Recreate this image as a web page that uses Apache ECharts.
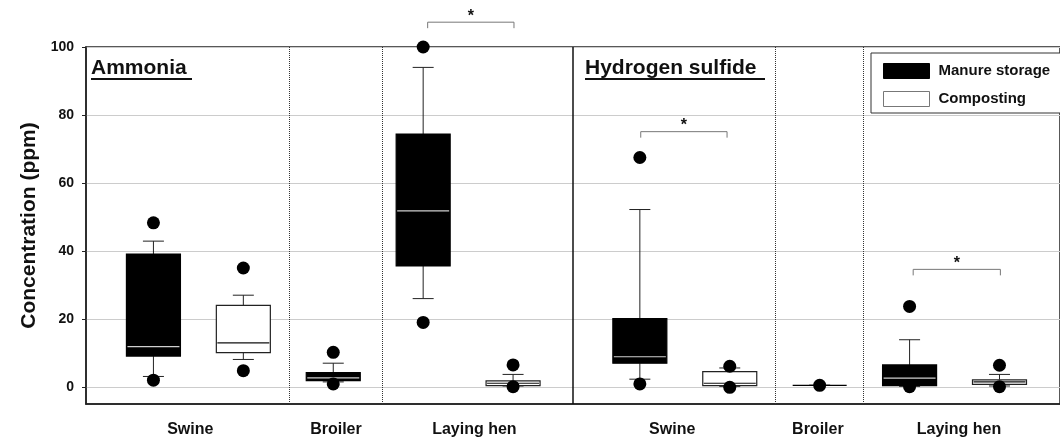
<!DOCTYPE html>
<html>
<head>
<meta charset="utf-8">
<script src="https://cdn.jsdelivr.net/npm/echarts@6/dist/echarts.min.js"></script>
<style>
  html, body { margin: 0; padding: 0; background: #fff; }
  #main { width: 1060px; height: 442px; }
</style>
</head>
<body>
<div id="main"></div>
<script>
var fontFamily = 'Arial, "Liberation Sans", sans-serif';

// x positions of the boxes (one unit = distance between neighbouring boxes)
var manurePos = [1, 3, 4, 6.41, 8.41, 9.41];
var compostPos = [2, 5, 7.41, 10.41];

// [min, Q1, median, Q3, max]
var manureBoxes = [
  [3.1, 9.1, 11.9, 39.1, 42.9],   // ammonia swine
  [1.5, 1.9, 2.7, 4.2, 7.0],      // ammonia broiler
  [26, 35.6, 51.8, 74.4, 94],     // ammonia laying hen
  [2.3, 7.0, 8.9, 20.1, 52.2],    // H2S swine
  [0.5, 0.5, 0.5, 0.5, 0.5],      // H2S broiler
  [0.2, 0.4, 2.6, 6.5, 13.9]      // H2S laying hen
];
var compostBoxes = [
  [8.1, 10.1, 13, 24, 27],
  [0.3, 0.4, 1.1, 1.8, 3.7],
  [0.2, 0.4, 1.1, 4.5, 5.6],
  [0.3, 0.8, 1.5, 2.1, 3.7]
];

// outlier points [x, value]
var outliers = [
  [1, 48.3], [1, 2.0], [2, 35], [2, 4.8], [3, 10.2], [3, 0.9],
  [4, 100], [4, 19], [5, 6.5], [5, 0.1],
  [6.41, 67.5], [6.41, 0.9], [7.41, 6.1], [7.41, -0.1], [8.41, 0.5],
  [9.41, 23.7], [9.41, 0.1], [10.41, 6.4], [10.41, 0.1]
];

// significance brackets [x from, x to, level]
var brackets = [[4.05, 5.01, 107.3], [6.42, 7.38, 75.1], [9.45, 10.42, 34.6]];

var panelDividers = [5.664];
var groupDividers = [2.506, 3.542, 7.917, 8.898];

var groupLabels = ['Swine', 'Broiler', 'Laying hen', 'Swine', 'Broiler', 'Laying hen'];
var labelPos = [1.41, 3.03, 4.57, 6.77, 8.39, 9.96];
var yTicks = [0, 20, 40, 60, 80, 100];

function boxData(pos, boxes) {
  return pos.map(function (x, i) { return [x].concat(boxes[i]); });
}

function seg(x1, y1, x2, y2, color, width) {
  return { type: 'line', shape: { x1: x1, y1: y1, x2: x2, y2: y2 }, style: { stroke: color, lineWidth: width } };
}

function renderBox(fill, edge, midColor) {
  return function (params, api) {
    var x = api.value(0);
    var p = [1, 2, 3, 4, 5].map(function (i) { return api.coord([x, api.value(i)]); });
    var cx = p[0][0];
    var half = 27, cap = 10.5;
    var kids = [
      seg(cx, p[3][1], cx, p[4][1], '#222', 1),
      seg(cx - cap, p[4][1], cx + cap, p[4][1], '#222', 1),
      seg(cx, p[0][1], cx, p[1][1], '#222', 1),
      seg(cx - cap, p[0][1], cx + cap, p[0][1], '#222', 1),
      {
        type: 'rect',
        shape: { x: cx - half, y: p[3][1], width: half * 2, height: p[1][1] - p[3][1] },
        style: { fill: fill, stroke: edge, lineWidth: 1.2 }
      }
    ];
    if (api.value(4) > api.value(2)) {
      kids.push(seg(cx - half + 1, p[2][1], cx + half - 1, p[2][1], midColor, 1.2));
    }
    return { type: 'group', children: kids };
  };
}

var chartDom = document.getElementById('main');
var myChart = echarts.init(chartDom);
var option;

option = {
  animation: false,
  textStyle: { fontFamily: fontFamily },
  grid: {
    left: 86, top: 47, width: 975, height: 357,
    show: true, borderColor: '#222', borderWidth: 1.5
  },
  legend: {
    orient: 'vertical',
    left: 871, top: 53,
    padding: [10, 40, 6, 12],
    itemWidth: 46, itemHeight: 15, itemGap: 12,
    backgroundColor: '#fff',
    borderColor: '#333', borderWidth: 1,
    selectedMode: false,
    textStyle: { fontSize: 15, fontWeight: 'bold', color: '#111', padding: [0, 0, 0, 4] },
    data: [
      { name: 'Manure storage', icon: 'rect', itemStyle: { color: '#000', borderColor: '#000', borderWidth: 1 } },
      { name: 'Composting', icon: 'rect', itemStyle: { color: '#fff', borderColor: '#777', borderWidth: 1 } }
    ]
  },
  graphic: [
    { type: 'text', left: 91, top: 58, style: { text: 'Ammonia', font: 'bold 21px ' + fontFamily, fill: '#111' } },
    { type: 'rect', left: 91, top: 78, shape: { width: 101, height: 2 }, style: { fill: '#111' } },
    { type: 'text', left: 585, top: 58, style: { text: 'Hydrogen sulfide', font: 'bold 21px ' + fontFamily, fill: '#111' } },
    { type: 'rect', left: 585, top: 78, shape: { width: 180, height: 2 }, style: { fill: '#111' } }
  ],
  xAxis: {
    type: 'value',
    min: 0.25,
    max: 11.083,
    splitLine: { show: false },
    axisTick: { show: false },
    axisLine: { show: true, onZero: false, lineStyle: { color: '#222', width: 1.5 } },
    axisLabel: {
      customValues: labelPos,
      margin: 18,
      fontSize: 16,
      fontWeight: 'bold',
      color: '#111',
      formatter: function (v) {
        var best = 0;
        labelPos.forEach(function (p, i) { if (Math.abs(p - v) < Math.abs(labelPos[best] - v)) best = i; });
        return groupLabels[best];
      }
    }
  },
  yAxis: {
    type: 'value',
    min: -5,
    max: 100,
    name: 'Concentration (ppm)',
    nameLocation: 'middle',
    nameGap: 46,
    nameTextStyle: { fontSize: 21, fontWeight: 'bold', color: '#111' },
    axisLine: { show: true, lineStyle: { color: '#222', width: 1.5 } },
    axisTick: { show: true, length: 4, customValues: yTicks, lineStyle: { color: '#222' } },
    axisLabel: { customValues: yTicks, margin: 12, fontSize: 14, fontWeight: 'bold', color: '#111' },
    splitLine: { show: true, lineStyle: { color: '#cccccc', width: 1 } }
  },
  series: [
    {
      name: 'Manure storage',
      type: 'custom',
      itemStyle: { color: '#000' },
      encode: { x: 0, y: [1, 2, 3, 4, 5] },
      renderItem: renderBox('#000', '#000', '#cfcfcf'),
      data: boxData(manurePos, manureBoxes),
      z: 3
    },
    {
      name: 'Composting',
      type: 'custom',
      itemStyle: { color: '#fff', borderColor: '#777' },
      encode: { x: 0, y: [1, 2, 3, 4, 5] },
      renderItem: renderBox('#fff', '#222', '#111'),
      data: boxData(compostPos, compostBoxes),
      z: 3
    },
    {
      name: 'outliers',
      type: 'scatter',
      symbol: 'circle',
      symbolSize: 13,
      itemStyle: { color: '#000', opacity: 1 },
      data: outliers,
      clip: false,
      z: 4,
      markLine: {
        silent: true,
        symbol: 'none',
        label: { show: false },
        data: panelDividers.map(function (x) {
          return { xAxis: x, lineStyle: { type: 'solid', color: '#111', width: 1.5 } };
        }).concat(groupDividers.map(function (x) {
          return { xAxis: x, lineStyle: { type: 'dotted', color: '#333', width: 1 } };
        }))
      }
    },
    {
      name: 'brackets',
      type: 'custom',
      clip: false,
      z: 5,
      renderItem: function (params, api) {
        var a = api.coord([api.value(0), api.value(2)]);
        var b = api.coord([api.value(1), api.value(2)]);
        return {
          type: 'group',
          children: [
            {
              type: 'polyline',
              shape: { points: [[a[0], a[1] + 6], [a[0], a[1]], [b[0], a[1]], [b[0], a[1] + 6]] },
              style: { stroke: '#777', lineWidth: 1, fill: null }
            },
            {
              type: 'text',
              x: (a[0] + b[0]) / 2,
              y: a[1] - 6,
              style: { text: '*', font: 'bold 16px ' + fontFamily, fill: '#111', align: 'center', verticalAlign: 'middle' }
            }
          ]
        };
      },
      data: brackets
    }
  ]
};

option && myChart.setOption(option);
</script>
</body>
</html>
